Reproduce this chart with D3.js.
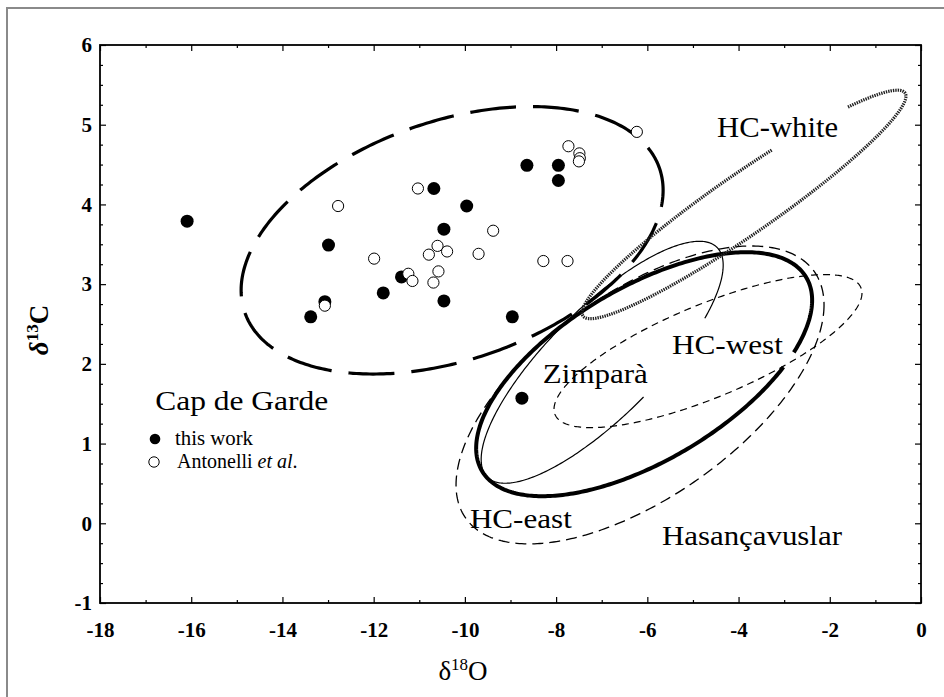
<!DOCTYPE html>
<html><head><meta charset="utf-8">
<script src="https://cdn.jsdelivr.net/npm/d3@7"></script>
<style>body{margin:0;background:#fff} svg{display:block}</style>
</head><body><svg id="c" width="944" height="697"></svg>
<script>
// ---------- data ----------
const xTicks = [-18,-16,-14,-12,-10,-8,-6,-4,-2,0];
const xTickLabels = ["-18","-16","-14","-12","-10","-8","-6","-4","-2","0"];
const yTicks = [-1,0,1,2,3,4,5,6];
const yTickLabels = ["-1","0","1","2","3","4","5","6"];

// Cap de Garde, this work (filled)
const thisWorkO = [-16.09,-12.99,-13.38,-13.07,-11.79,-11.39,-10.68,-10.46,-10.46,-9.96,-8.64,-7.95,-7.95,-8.96,-8.75];
const thisWorkC = [3.79,3.49,2.59,2.78,2.89,3.09,4.20,3.69,2.79,3.98,4.49,4.49,4.30,2.59,1.57];
// Cap de Garde, Antonelli et al. (open)
const antonelliO = [-12.78,-11.03,-11.99,-10.60,-10.39,-10.79,-11.24,-11.15,-10.69,-10.58,-9.38,-9.70,-8.28,-7.75,-7.73,-7.49,-7.48,-7.50,-6.23,-13.07];
const antonelliC = [3.98,4.20,3.32,3.48,3.41,3.37,3.13,3.04,3.02,3.16,3.67,3.38,3.29,3.29,4.73,4.64,4.58,4.54,4.91,2.73];

// confidence ellipses: centre + two conjugate semi-axes (data units); drawn arcs in degrees
const ellipseNames   = ["Cap de Garde","Hasançavuslar","Zimparà","HC-west","HC-east","HC-white"];
const ellipseCentres = [[-10.28,3.55],[-6.07,1.87],[-6.99,2.02],[-4.67,2.16],[-6.16,1.61],[-3.88,4.00]];
const ellipseAxisU   = [[4.626,0.627],[3.683,0.928],[2.653,1.217],[3.376,0.728],[4.034,1.129],[3.530,1.399]];
const ellipseAxisV   = [[0,1.556],[0,-1.217],[0,-0.907],[0,-0.626],[0,-1.489],[0.375,-0.310]];
const ellipseArcs    = [[[0,360]],[[34,387]],[[70,392]],[[0,360]],[[0,360]],[[-44,286]]];

// region labels
const labelTexts = ["HC-white","HC-west","Zimparà","HC-east","Hasançavuslar","Cap de Garde"];
const labelO     = [-4.47,-5.46,-8.29,-9.89,-5.68,-16.79];
const labelC     = [4.85,2.12,1.76,-0.06,-0.27,1.42];

// ---------- styles ----------
const ellipseStyles = [
  {w:3.2, dash:"46 17", col:"#000"},
  {w:4.0, dash:null,    col:"#000"},
  {w:1.2, dash:null,    col:"#000"},
  {w:1.2, dash:"7 5",   col:"#000"},
  {w:1.3, dash:"11 6",  col:"#000"},
  {w:3.2, dash:"1.4 1", col:"#222"}
];
const labelSize = [29,27,27,27,27,27];
const labelLen  = [121,111,105,102,180,173];

const svg = d3.select("#c");
const L=100, R=921, T=45, B=603;
const x = d3.scaleLinear().domain([-18,0]).range([L,R]);
const y = d3.scaleLinear().domain([-1,6]).range([B,T]);
const serif = "'Liberation Serif','Times New Roman',serif";

// outer page border
svg.append("rect").attr("x",7).attr("y",8).attr("width",1000).attr("height",1000)
  .attr("fill","none").attr("stroke","#8a8a8a").attr("stroke-width",2);

// ---------- axes ----------
function styleAxis(g){
  g.select(".domain").remove();
  g.selectAll("line").attr("stroke","#000").attr("stroke-width",1.2);
  g.selectAll("text").attr("font-family",serif).attr("font-weight","bold").attr("font-size",21).attr("fill","#000");
}
const xMinor = d3.range(-17,0,2);
const yMinor = d3.range(-1,6.001,0.25).filter(v=>Math.abs(v-Math.round(v))>1e-6);

svg.append("g").attr("transform",`translate(0,${B})`)
  .call(d3.axisBottom(x).tickValues(xTicks).tickSize(-6).tickPadding(19).tickFormat((d,i)=>xTickLabels[i])).call(styleAxis);
svg.append("g").attr("transform",`translate(0,${B})`)
  .call(d3.axisBottom(x).tickValues(xMinor).tickSize(-3).tickFormat("")).call(styleAxis);
svg.append("g").attr("transform",`translate(0,${T})`)
  .call(d3.axisTop(x).tickValues(xTicks).tickSize(-6).tickFormat("")).call(styleAxis);
svg.append("g").attr("transform",`translate(0,${T})`)
  .call(d3.axisTop(x).tickValues(xMinor).tickSize(-3).tickFormat("")).call(styleAxis);
svg.append("g").attr("transform",`translate(${L},0)`)
  .call(d3.axisLeft(y).tickValues(yTicks).tickSize(-6).tickPadding(8).tickFormat((d,i)=>yTickLabels[i])).call(styleAxis);
svg.append("g").attr("transform",`translate(${L},0)`)
  .call(d3.axisLeft(y).tickValues(yMinor).tickSize(-3).tickFormat("")).call(styleAxis);
svg.append("g").attr("transform",`translate(${R},0)`)
  .call(d3.axisRight(y).tickValues(yTicks).tickSize(-6).tickFormat("")).call(styleAxis);
svg.append("g").attr("transform",`translate(${R},0)`)
  .call(d3.axisRight(y).tickValues(yMinor).tickSize(-3).tickFormat("")).call(styleAxis);

svg.append("rect").attr("x",L).attr("y",T).attr("width",R-L).attr("height",B-T)
  .attr("fill","none").attr("stroke","#000").attr("stroke-width",1.8);

// axis titles
const xt = svg.append("text").attr("x",463).attr("y",680).attr("text-anchor","middle")
  .attr("font-family",serif).attr("font-size",27);
xt.append("tspan").text("δ");
xt.append("tspan").attr("font-size",17).attr("dy",-10).text("18");
xt.append("tspan").attr("dy",10).text("O");
const yt = svg.append("text").attr("transform","translate(48,330) rotate(-90)").attr("text-anchor","middle")
  .attr("font-family",serif).attr("font-size",27).attr("font-weight","bold");
yt.append("tspan").attr("font-style","italic").text("δ");
yt.append("tspan").attr("font-size",17).attr("dy",-10).text("13");
yt.append("tspan").attr("dy",10).text("C");

// ---------- ellipses ----------
const line = d3.line().x(d=>x(d[0])).y(d=>y(d[1]));
ellipseNames.forEach((name,i)=>{
  const c=ellipseCentres[i], u=ellipseAxisU[i], v=ellipseAxisV[i], st=ellipseStyles[i];
  ellipseArcs[i].forEach(([a0,a1])=>{
    const pts = d3.range(a0, a1+0.001, 1).map(deg=>{
      const t=deg*Math.PI/180;
      return [c[0]+u[0]*Math.cos(t)+v[0]*Math.sin(t), c[1]+u[1]*Math.cos(t)+v[1]*Math.sin(t)];
    });
    svg.append("path").attr("d",line(pts)).attr("fill","none")
      .attr("stroke",st.col).attr("stroke-width",st.w)
      .attr("stroke-dasharray",st.dash).attr("stroke-linecap","butt");
  });
});

// ---------- points ----------
svg.append("g").selectAll("circle").data(thisWorkO).join("circle")
  .attr("cx",d=>x(d)).attr("cy",(d,i)=>y(thisWorkC[i])).attr("r",6.5).attr("fill","#000");
svg.append("g").selectAll("circle").data(antonelliO).join("circle")
  .attr("cx",d=>x(d)).attr("cy",(d,i)=>y(antonelliC[i])).attr("r",5.6)
  .attr("fill","#fff").attr("stroke","#000").attr("stroke-width",1);

// ---------- labels ----------
labelTexts.forEach((t,i)=>{
  svg.append("text").attr("x",x(labelO[i])).attr("y",y(labelC[i]))
    .attr("font-family",serif).attr("font-size",labelSize[i])
    .attr("textLength",labelLen[i]).attr("lengthAdjust","spacingAndGlyphs").text(t);
});

// legend
svg.append("circle").attr("cx",155).attr("cy",439).attr("r",5.3).attr("fill","#000");
svg.append("text").attr("x",175).attr("y",445).attr("font-family",serif).attr("font-size",20)
  .attr("textLength",78).attr("lengthAdjust","spacingAndGlyphs").text("this work");
svg.append("circle").attr("cx",154).attr("cy",462).attr("r",5.2).attr("fill","#fff").attr("stroke","#000").attr("stroke-width",1);
const lt = svg.append("text").attr("x",177).attr("y",468).attr("font-family",serif).attr("font-size",20);
lt.append("tspan").text("Antonelli ");
lt.append("tspan").attr("font-style","italic").text("et al");
lt.append("tspan").text(".");
</script></body></html>
